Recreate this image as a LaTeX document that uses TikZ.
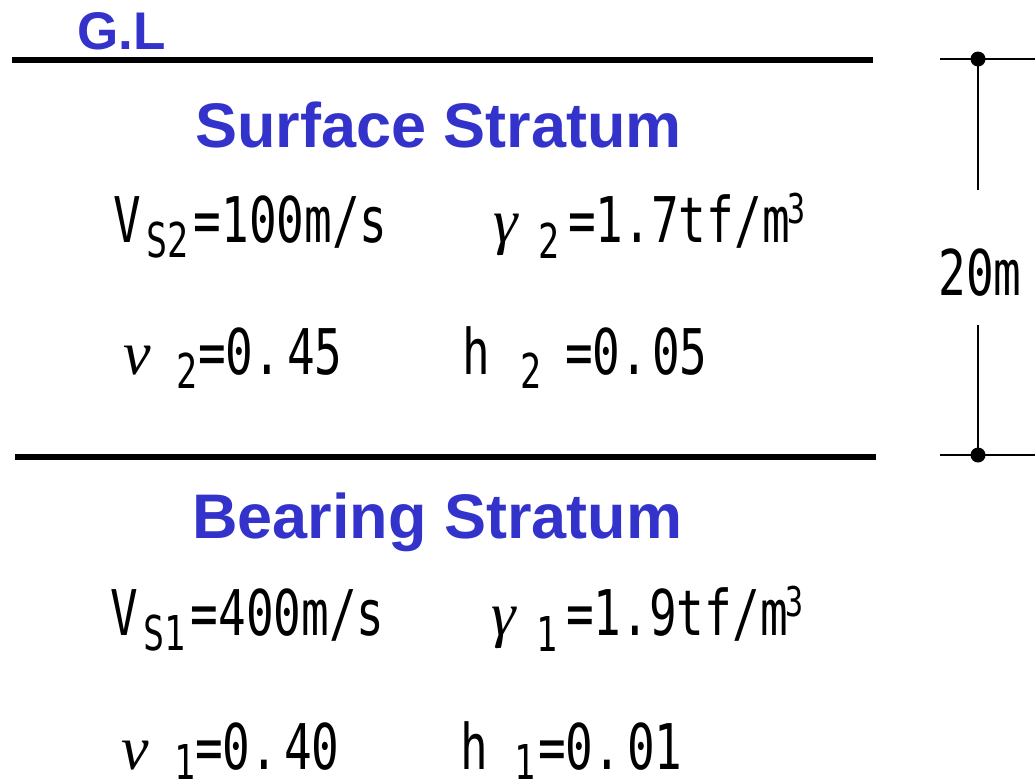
\documentclass[tikz,border=0pt]{standalone}
\usepackage{fontspec}
\setmainfont{Liberation Sans}
\newfontfamily\gothic[FakeStretch=0.73]{DejaVu Sans Mono}
\newfontfamily\grkfont{Liberation Serif}
\definecolor{titleblue}{RGB}{51,51,204}
\newcommand\gsz{\fontsize{63}{63}\selectfont}
\newcommand\lowsub[2][14pt]{\raisebox{-#1}{\fontsize{48}{48}\selectfont #2}}
\newcommand\cubic{\kern-2pt\raisebox{19pt}{\fontsize{41}{41}\selectfont 3}}
\newcommand\grk[1]{{\grkfont\itshape\fontsize{62}{62}\selectfont #1}}
\newcommand\fixbox[2]{\makebox[#1][l]{#2}}
\tikzset{
  gtxt/.style={anchor=base west, inner sep=0pt, font=\gothic\gsz, text=black},
  title/.style={anchor=base west, inner sep=0pt, text=titleblue, font=\bfseries\fontsize{63}{63}\selectfont},
  thickline/.style={line width=5.5pt},
  thinline/.style={line width=2pt},
  dimdot/.style={circle, fill=black, inner sep=0pt, minimum size=15pt}
}
\begin{document}
\begin{tikzpicture}[x=1pt,y=-1pt]
\useasboundingbox (0,0) rectangle (1035,780);
% ground line label
\node[anchor=base west, inner sep=0pt, text=titleblue, font=\bfseries\fontsize{53}{53}\selectfont] (gl) at (77,49) {G.L};
% stratum boundaries
\coordinate (l1a) at (12,60);
\coordinate (l1b) at (873,60);
\coordinate (l2a) at (15,457);
\coordinate (l2b) at (876,457);
\draw[thickline] (l1a) -- (l1b);
\draw[thickline] (l2a) -- (l2b);
% titles
\node[title] (surf) at (195,147) {Surface Stratum};
\node[title] (bear) at (192,538) {Bearing Stratum};
% surface stratum properties
\node[gtxt] (vs2) at (113,242) {\fixbox{33pt}{V}\fixbox{47.5pt}{\lowsub[15pt]{S2}}=100m/s};
\node[gtxt] (g2) at (493,242) {\fixbox{45pt}{\grk{γ}}\fixbox{30pt}{\lowsub[16pt]{2}}=1.7tf/m\cubic};
\node[gtxt] (n2) at (123,374) {\fixbox{53pt}{\grk{ν}}\fixbox{22pt}{\lowsub{2}}=0.\kern6pt 45};
\node[gtxt] (h2) at (462,374) {\fixbox{58pt}{h}\fixbox{45pt}{\lowsub{2}}=0.\kern4pt 05};
% bearing stratum properties
\node[gtxt] (vs1) at (110,635) {\fixbox{33pt}{V}\fixbox{47.5pt}{\lowsub[15pt]{S1}}=400m/s};
\node[gtxt] (g1) at (491,635) {\fixbox{45pt}{\grk{γ}}\fixbox{30pt}{\lowsub[16pt]{1}}=1.9tf/m\cubic};
\node[gtxt] (n1) at (121,769) {\fixbox{53pt}{\grk{ν}}\fixbox{21pt}{\lowsub[10pt]{1}}=0.\kern6pt 40};
\node[gtxt] (h1) at (460,769) {\fixbox{54pt}{h}\fixbox{24pt}{\lowsub[10pt]{1}}=0.\kern6pt 01};
% dimension
\coordinate (dt) at (978,59);
\coordinate (db) at (978,455);
\coordinate (tka) at (940,59);
\coordinate (tkb) at (1035,59);
\coordinate (bka) at (940,455);
\coordinate (bkb) at (1035,455);
\coordinate (gapt) at (978,190);
\coordinate (gapb) at (978,325);
\draw[thinline] (tka) -- (tkb);
\draw[thinline] (bka) -- (bkb);
\draw[thinline] (dt) -- (gapt);
\draw[thinline] (gapb) -- (db);
\node[dimdot] (dotT) at (dt) {};
\node[dimdot] (dotB) at (db) {};
\node[gtxt, anchor=base] (dim) at (980,295) {20m};
\end{tikzpicture}
\end{document}
